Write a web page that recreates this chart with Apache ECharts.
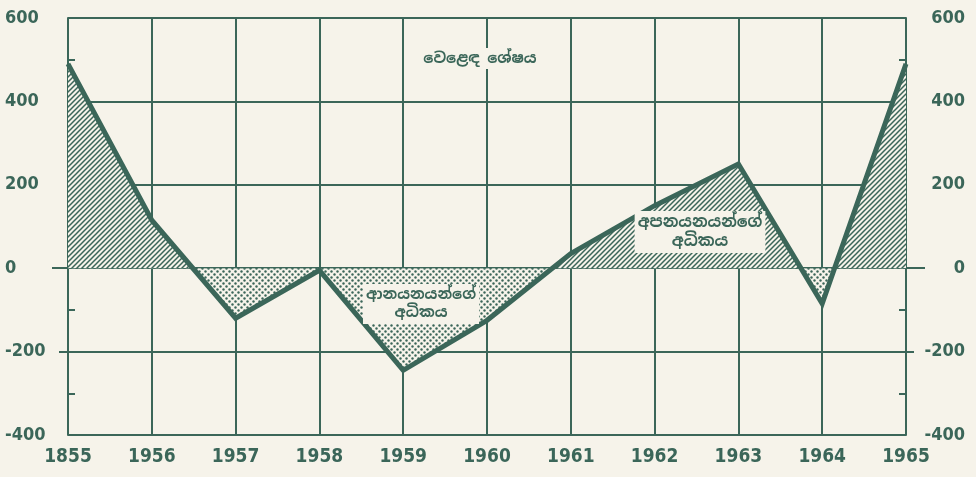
<!DOCTYPE html>
<html>
<head>
<meta charset="utf-8">
<script src="https://cdn.jsdelivr.net/npm/echarts@6/dist/echarts.min.js"></script>
<style>
html,body{margin:0;padding:0;background:#f6f3ea;}
#main{width:976px;height:477px;}
</style>
</head>
<body>
<div id="main"></div>
<script>
// years on the x axis (as printed)
var years = ['1855','1956','1957','1958','1959','1960','1961','1962','1963','1964','1965'];
// trade balance values
var balance = [490, 115, -120, -5, -245, -125, 35, 150, 250, -85, 490];
var yMin = -400, yMax = 600;

var ink = '#3b6659';
var paper = '#f6f3ea';

// hatch pattern for the export surplus
function hatch(){
	var c = document.createElement('canvas');
	c.width = 5; c.height = 5;
	var g = c.getContext('2d');
	g.fillStyle = paper; g.fillRect(0,0,5,5);
	g.strokeStyle = ink; g.lineWidth = 1.5;
	g.beginPath();
	g.moveTo(-1,6); g.lineTo(6,-1);
	g.moveTo(-1,1); g.lineTo(1,-1);
	g.moveTo(4,6); g.lineTo(6,4);
	g.stroke();
	return c;
}
// dot pattern for the import surplus
function dots(){
	var c = document.createElement('canvas');
	c.width = 6; c.height = 6;
	var g = c.getContext('2d');
	g.fillStyle = paper; g.fillRect(0,0,6,6);
	g.fillStyle = ink;
	g.beginPath(); g.arc(1.5,1.5,1.2,0,Math.PI*2); g.fill();
	g.beginPath(); g.arc(4.5,4.5,1.2,0,Math.PI*2); g.fill();
	return c;
}

var L = 68, R = 70, T = 18, B = 42;
var zeroY = T + (477 - T - B) * yMax / (yMax - yMin);

var numFont = {color: ink, fontWeight: 'bold', fontSize: 18, fontFamily: 'DejaVu Sans Condensed, DejaVu Sans, sans-serif'};
var sinFont = 'bold 15px "Noto Sans Sinhala", "Noto Sans", sans-serif';

function tickAxis(pos, vals, len){
	return {
		type: 'value', gridIndex: 0, position: pos, min: yMin, max: yMax,
		axisLine: {show: false}, splitLine: {show: false}, axisLabel: {show: false},
		axisTick: {show: true, customValues: vals, length: len, lineStyle: {color: ink, width: 2}}
	};
}

var myChart = echarts.init(document.getElementById('main'));
myChart.setOption({
	backgroundColor: paper,
	animation: false,
	grid: [
		{left: L, right: R, top: T, bottom: B},
		{left: L, right: R, top: T, bottom: 477 - zeroY},
		{left: L, right: R, top: zeroY, bottom: B}
	],
	xAxis: [
		{
			type: 'category', gridIndex: 0, data: years, boundaryGap: false,
			axisLine: {lineStyle: {color: ink, width: 2}},
			axisTick: {show: false},
			splitLine: {show: true, lineStyle: {color: ink, width: 2}},
			axisLabel: {margin: 13, color: ink, fontWeight: 'bold', fontSize: 19,
				fontFamily: 'Liberation Sans Narrow, DejaVu Sans Condensed, Roboto, sans-serif'}
		},
		{type: 'category', gridIndex: 1, data: years, boundaryGap: false, show: false},
		{type: 'category', gridIndex: 2, data: years, boundaryGap: false, show: false}
	],
	yAxis: [
		{
			type: 'value', gridIndex: 0, position: 'left', min: yMin, max: yMax, interval: 200,
			axisLine: {show: true, lineStyle: {color: ink, width: 2}},
			axisTick: {show: false, inside: true},
			minorTick: {show: true, splitNumber: 2, length: 7, lineStyle: {color: ink, width: 2}},
			splitLine: {show: true, lineStyle: {color: ink, width: 2}},
			axisLabel: Object.assign({align: 'left', margin: 63}, numFont)
		},
		{
			type: 'value', gridIndex: 0, position: 'right', min: yMin, max: yMax, interval: 200,
			axisLine: {show: true, lineStyle: {color: ink, width: 2}},
			axisTick: {show: false, inside: true},
			minorTick: {show: true, splitNumber: 2, length: 7, lineStyle: {color: ink, width: 2}},
			splitLine: {show: false},
			axisLabel: Object.assign({align: 'right', margin: 59}, numFont)
		},
		tickAxis('left', [0], 16),
		tickAxis('left', [-200], 9),
		tickAxis('right', [0], 19),
		tickAxis('right', [-200], 8),
		{type: 'value', gridIndex: 1, min: 0, max: yMax, show: false},
		{type: 'value', gridIndex: 2, min: yMin, max: 0, show: false}
	],
	series: [
		{
			name: 'exports', type: 'line', xAxisIndex: 1, yAxisIndex: 6, data: balance,
			symbol: 'none', lineStyle: {width: 0}, z: 2,
			areaStyle: {origin: 'start', opacity: 1, color: {image: hatch(), repeat: 'repeat'}}
		},
		{
			name: 'imports', type: 'line', xAxisIndex: 2, yAxisIndex: 7, data: balance,
			symbol: 'none', lineStyle: {width: 0}, z: 2,
			areaStyle: {origin: 'end', opacity: 1, color: {image: dots(), repeat: 'repeat'}}
		},
		{
			name: 'balance', type: 'line', xAxisIndex: 0, yAxisIndex: 0, data: balance,
			symbol: 'none', z: 4,
			lineStyle: {color: ink, width: 5, join: 'miter', miterLimit: 4}
		}
	],
	graphic: [
		{
			type: 'text', x: 480, y: 48, z: 10,
			style: {text: 'වෙළෙඳ ශේෂය', fill: ink, font: sinFont, align: 'center', verticalAlign: 'top',
				backgroundColor: paper, padding: [3, 4]}
		},
		{
			type: 'text', x: 421, y: 284, z: 10,
			style: {text: 'ආනයනයන්ගේ\nඅධිකය', fill: ink, align: 'center', verticalAlign: 'top', lineHeight: 18,
				font: sinFont, backgroundColor: paper, padding: [2, 3]}
		},
		{
			type: 'text', x: 700, y: 211, z: 10,
			style: {text: 'අපනයනයන්ගේ\nඅධිකය', fill: ink, align: 'center', verticalAlign: 'top', lineHeight: 19,
				font: 'bold 16px "Noto Sans Sinhala", "Noto Sans", sans-serif', backgroundColor: paper, padding: [2, 3]}
		}
	]
});
</script>
</body>
</html>
